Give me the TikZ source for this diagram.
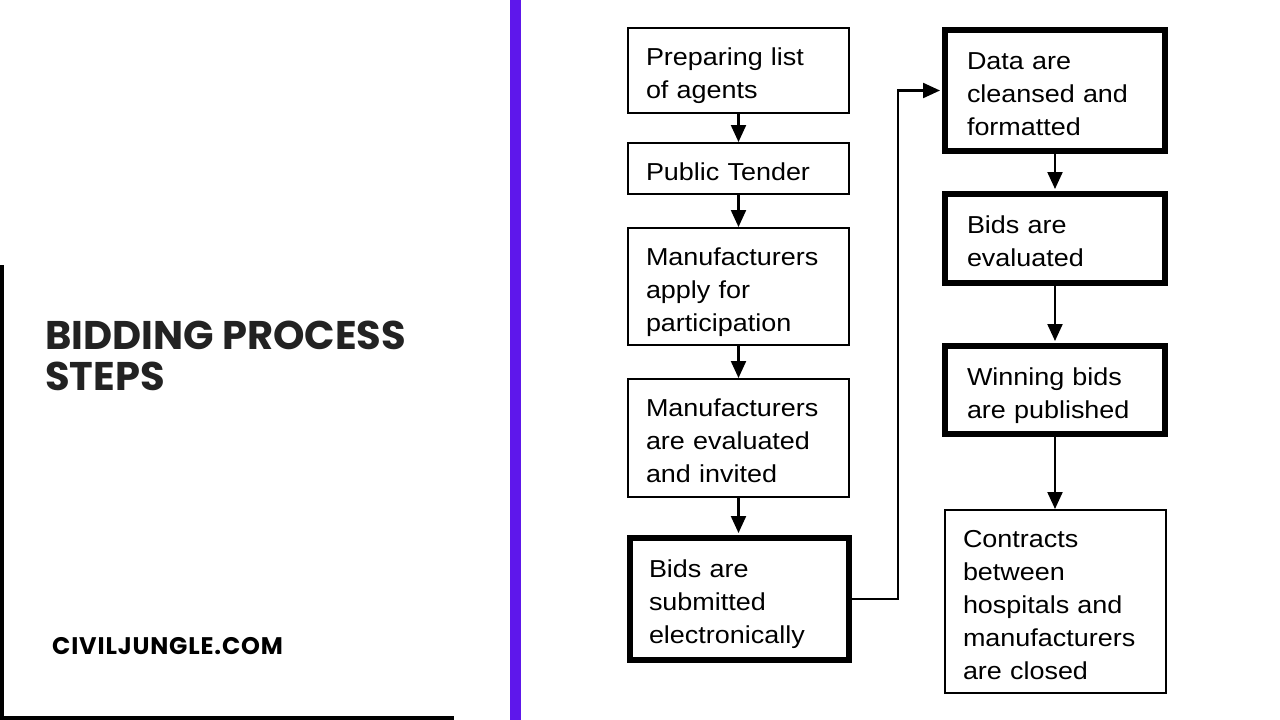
\documentclass[tikz,border=0pt]{standalone}
\usepackage{fontspec}
\setmainfont{Liberation Sans}[FakeStretch=1.1]
\newfontfamily\titlefont{Poppins}
\newfontfamily\sitefont{Poppins}[LetterSpace=3.5]
\usetikzlibrary{arrows.meta}
\definecolor{barpurple}{HTML}{5E17EB}
\definecolor{titlegray}{HTML}{222222}
\tikzset{
  thinbox/.style={draw=black, line width=2pt, inner xsep=18pt, inner ysep=0pt, align=left,
    font=\fontsize{24.5}{33}\selectfont,
    execute at begin node={\rule{0pt}{30pt}},
    execute at end node={\rule[-7pt]{0pt}{7pt}}},
  thickbox/.style={thinbox, line width=6pt},
  arr/.style={line width=2.2pt, -{Triangle[width=15pt,length=17pt]}},
}
\begin{document}
\begin{tikzpicture}[x=1pt,y=-1pt]
\useasboundingbox (0,0) rectangle (1280,720);
\fill[white] (0,0) rectangle (1280,720);
% left panel frame
\fill[black] (0,265) rectangle (4,720);
\fill[black] (0,716) rectangle (454,720);
% purple bar
\fill[barpurple] (510,0) rectangle (521,720);
% title
\node[anchor=base west, inner sep=0pt, text=titlegray, align=left,
  font=\titlefont\bfseries\fontsize{40}{41}\selectfont] (title) at (45,390) {BIDDING PROCESS\\STEPS};
\node[anchor=base west, inner sep=0pt, text=black,
  font=\sitefont\bfseries\fontsize{24}{24}\selectfont] (site) at (52,654) {CIVILJUNGLE.COM};
% left column
\node[thinbox, text width=185pt, minimum height=85pt] (b1) at (738.5,70.5) {Preparing list\\of agents};
\node[thinbox, text width=185pt, minimum height=51pt] (b2) at (738.5,168.5) {Public Tender};
\node[thinbox, text width=185pt, minimum height=117pt] (b3) at (738.5,286.5) {Manufacturers\\apply for\\participation};
\node[thinbox, text width=185pt, minimum height=118pt] (b4) at (738.5,438) {Manufacturers\\are evaluated\\and invited};
\node[thickbox, inner xsep=19pt, text width=181pt, minimum height=122pt] (b5) at (739.5,599) {Bids are\\submitted\\electronically};
% right column
\node[thickbox, inner xsep=22pt, text width=176pt, minimum height=121pt] (b6) at (1055,90.5) {Data are\\cleansed and\\formatted};
\node[thickbox, inner xsep=22pt, text width=176pt, minimum height=89pt] (b7) at (1055,238.5) {Bids are\\evaluated};
\node[thickbox, inner xsep=22pt, text width=176pt, minimum height=88pt] (b8) at (1055,390) {Winning bids\\are published};
\node[thinbox, text width=185pt, minimum height=183pt] (b9) at (1055.5,601.5) {Contracts\\between\\hospitals and\\manufacturers\\are closed};
% connectors
\coordinate (elbow) at (898,598);
\draw[arr] (b1.south) -- (b2.north);
\draw[arr] (b2.south) -- (b3.north);
\draw[arr] (b3.south) -- (b4.north);
\draw[arr, shorten >=2pt] (b4.south) -- (b4.south |- b5.north);
\draw[arr, shorten >=2pt] (b5.east) -- (b5.east -| elbow) |- (b6.west);
\draw[arr, shorten >=2pt] (b6.south) -- (b7.north);
\draw[arr, shorten >=2pt] (b7.south) -- (b8.north);
\draw[arr] (b8.south) -- (b8.south |- b9.north);
\end{tikzpicture}
\end{document}
